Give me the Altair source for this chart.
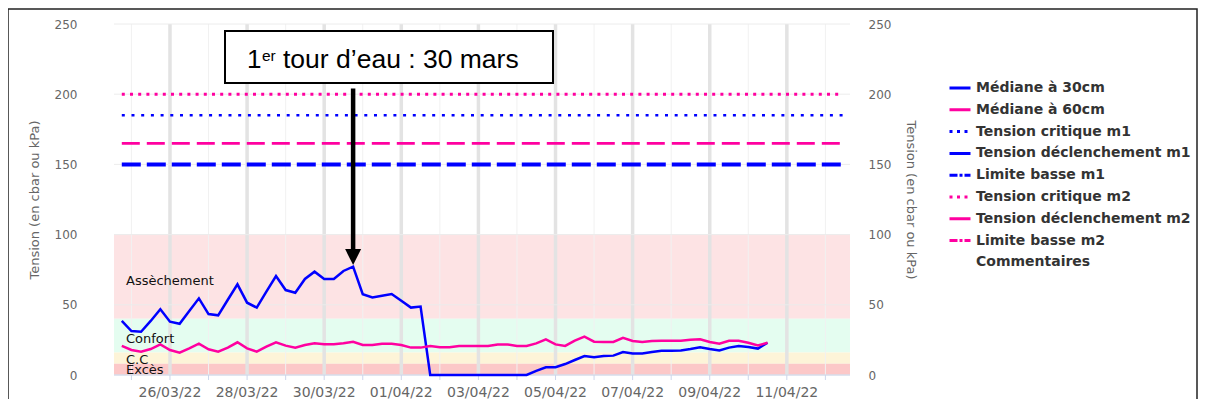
import altair as alt
import pandas as pd

# ---------------- data ----------------
t0 = pd.Timestamp("2022-03-24 18:00")
times = [(t0 + pd.Timedelta(hours=6 * i)).strftime("%Y-%m-%dT%H:%M:%S") for i in range(68)]

blue_30 = [38.5, 31.3, 30.8, 38.5, 46.8, 38.0, 36.5, 45.6, 54.6, 43.4,
           42.5, 53.6, 64.6, 51.5, 48.0, 59.4, 70.5, 60.5, 58.6, 68.4,
           73.6, 68.4, 68.4, 74.1, 77.2, 57.5, 55.3, 56.5, 57.7, 52.9,
           48.0, 48.7, 0, 0, 0, 0, 0, 0, 0, 0,
           0, 0, 0, 3.0, 5.5, 5.5, 7.8, 10.7, 13.5, 12.6,
           13.5, 13.8, 16.4, 15.4, 15.4, 16.4, 17.3, 17.3, 17.5, 18.5,
           19.7, 18.5, 17.5, 19.5, 20.7, 19.9, 18.8, 23.0]
pink_60 = [20.7, 17.8, 16.6, 18.5, 21.8, 17.8, 15.9, 19.0, 22.3, 18.3,
           16.6, 19.5, 23.3, 19.0, 16.6, 20.2, 23.3, 20.9, 19.5, 21.4,
           22.6, 21.9, 21.9, 22.6, 23.7, 21.4, 21.4, 22.3, 22.3, 21.4,
           19.5, 19.5, 20.7, 19.7, 19.7, 20.7, 20.7, 20.7, 20.7, 21.8,
           21.8, 20.7, 20.7, 22.5, 25.4, 21.8, 20.7, 24.5, 27.3, 23.7,
           23.5, 23.5, 26.4, 24.2, 23.5, 24.2, 24.4, 24.4, 24.4, 25.1,
           25.4, 23.5, 22.3, 24.4, 24.4, 23.0, 21.1, 23.0]

thr_names = ["Tension critique m2", "Tension critique m1",
             "Tension déclenchement m2", "Tension déclenchement m1"]
thr_values = [200, 185, 165, 150]
thr_start = "2022-03-24T18:00:00"
thr_end = "2022-04-12T11:00:00"

band_names = ["Assèchement", "Confort", "C.C", "Excès"]
band_lo = [40, 16, 8, 0]
band_hi = [100, 40, 16, 8]
band_label_y = [64.1, 22.8, 7.6, 1.0]

major_days = ["2022-03-26", "2022-03-28", "2022-03-30", "2022-04-01", "2022-04-03",
              "2022-04-05", "2022-04-07", "2022-04-09", "2022-04-11"]
major_labels = ["26/03/22", "28/03/22", "30/03/22", "01/04/22", "03/04/22",
                "05/04/22", "07/04/22", "09/04/22", "11/04/22"]
minor_days = ["2022-03-25", "2022-03-27", "2022-03-29", "2022-03-31", "2022-04-02",
              "2022-04-04", "2022-04-06", "2022-04-08", "2022-04-10", "2022-04-12"]
y_ticks = [0, 50, 100, 150, 200, 250]

legend_names = ["Médiane à 30cm", "Médiane à 60cm", "Tension critique m1",
                "Tension déclenchement m1", "Limite basse m1", "Tension critique m2",
                "Tension déclenchement m2", "Limite basse m2", "Commentaires"]

annotation_text = ["1", "er", "tour d\u2019eau : 30 mars"]
arrow_index = 24          # 1er tour d'eau (30/03)
arrow_top, arrow_head = 204, 84

# ---------------- styles ----------------
BLUE = "#0000ff"
PINK = "#ff00a0"
W, H = 736, 351
FONT = "DejaVu Sans"

band_colors = ["#fde3e4", "#e4fdf0", "#fdf4d8", "#fcc8c8"]
thr_colors = [PINK, BLUE, PINK, BLUE]
thr_dash = [[3, 5.2], [3, 6.7], [18, 7], [19, 6]]
thr_width = [3, 2.6, 2.6, 4]

legend_colors = [BLUE, PINK, BLUE, BLUE, BLUE, PINK, PINK, PINK, "rgba(0,0,0,0)"]
legend_dash = [[1, 0], [1, 0], [3, 4.5], [1, 0], [8, 2, 3, 2], [3, 4.5], [1, 0], [8, 2, 3, 2], [1, 0]]

x_domain = [alt.DateTime(year=2022, month=3, date=24, hours=13, minutes=9),
            alt.DateTime(year=2022, month=4, date=12, hours=15, minutes=19)]


def X(field, axis=None):
    return alt.X(field, type="temporal", scale=alt.Scale(domain=x_domain), axis=axis)


def Y(field, axis=None):
    return alt.Y(field, type="quantitative", scale=alt.Scale(domain=[0, 250], nice=False), axis=axis)


y_left = alt.Axis(orient="left", values=y_ticks, grid=False, domain=False, ticks=False, tickSize=0,
                  labelPadding=37, labelFont=FONT, labelFontSize=12, labelColor="#666666",
                  title="Tension (en cbar ou kPa)", titleFont=FONT, titleFontSize=13,
                  titleFontWeight="normal", titleColor="#666666", titlePadding=13)
y_right = alt.Axis(orient="right", values=y_ticks, grid=False, domain=False, ticks=False, tickSize=0,
                   labelPadding=18, labelFont=FONT, labelFontSize=12, labelColor="#666666",
                   title="Tension (en cbar ou kPa)", titleFont=FONT, titleFontSize=13,
                   titleFontWeight="normal", titleColor="#666666", titlePadding=13)

one = pd.DataFrame({"a": [0]})

# frame around the whole figure
frame = alt.Chart(one).mark_rect(fill=None, stroke="#222222", strokeWidth=1.5).encode(
    x=alt.value(-106), x2=alt.value(1083), y=alt.value(-15), y2=alt.value(385))

bands_df = pd.DataFrame({"name": band_names, "lo": band_lo, "hi": band_hi,
                         "ly": band_label_y, "col": band_colors})
bands = alt.Chart(bands_df).mark_rect().encode(
    x=alt.value(0), x2=alt.value(W), y=Y("lo", y_left), y2="hi",
    fill=alt.Fill("col:N", scale=None))

minor_df = pd.DataFrame({"t": [d + "T00:00:00" for d in minor_days]})
major_df = pd.DataFrame({"t": [d + "T00:00:00" for d in major_days], "lab": major_labels})
minor_grid = alt.Chart(minor_df).mark_rule(color="#f1f1f1", strokeWidth=1).encode(
    x=X("t"), y=alt.value(0), y2=alt.value(H))
major_grid = alt.Chart(major_df).mark_rule(color="#e3e3e3", strokeWidth=3.5).encode(
    x=X("t"), y=alt.value(0), y2=alt.value(H))
h_grid = alt.Chart(pd.DataFrame({"v": y_ticks})).mark_rule(color="#ececec", strokeWidth=1).encode(
    x=alt.value(0), x2=alt.value(W), y=Y("v", y_right))

# x axis: baseline, day ticks and date labels
x_base = alt.Chart(one).mark_rule(color="#ccd6eb", strokeWidth=1).encode(
    x=alt.value(0), x2=alt.value(W), y=alt.value(H))
tick_df = pd.concat([minor_df, major_df[["t"]]], ignore_index=True)
x_ticks = alt.Chart(tick_df).mark_rule(color="#ccd6eb", strokeWidth=1).encode(
    x=X("t"), y=alt.value(H), y2=alt.value(H + 5))
x_labels = alt.Chart(major_df).mark_text(align="center", baseline="alphabetic", font=FONT,
                                         fontSize=14, color="#666666").encode(
    x=X("t"), y=alt.value(H + 22), text="lab:N")

band_text = alt.Chart(bands_df).mark_text(align="left", baseline="alphabetic", font=FONT,
                                          fontSize=13, color="#111111").encode(
    x=alt.value(12), y=Y("ly"), text="name:N")

thr_layers = []
for name, val, col, dash, wdt in zip(thr_names, thr_values, thr_colors, thr_dash, thr_width):
    df = pd.DataFrame({"serie": [name], "v": [val], "t1": [thr_start], "t2": [thr_end]})
    thr_layers.append(alt.Chart(df).mark_rule(color=col, strokeDash=dash, strokeWidth=wdt).encode(
        x=X("t1"), x2="t2", y=Y("v")))

series_df = pd.DataFrame({"t": times, "m30": blue_30, "m60": pink_60})
line30 = alt.Chart(series_df).mark_line(color=BLUE, strokeWidth=2.5).encode(x=X("t"), y=Y("m30"))
line60 = alt.Chart(series_df).mark_line(color=PINK, strokeWidth=2.5).encode(x=X("t"), y=Y("m60"))

# annotation box
box = alt.Chart(one).mark_rect(fill="white", stroke="black", strokeWidth=2).encode(
    x=alt.value(111), x2=alt.value(439), y=alt.value(7), y2=alt.value(59))
ann1 = alt.Chart(one).mark_text(align="left", baseline="alphabetic", font="Liberation Sans",
                                fontSize=26, color="black").encode(
    x=alt.value(133), y=alt.value(44), text=alt.value(annotation_text[0]))
ann2 = alt.Chart(one).mark_text(align="left", baseline="alphabetic", font="Liberation Sans",
                                fontSize=15.5, color="black").encode(
    x=alt.value(148), y=alt.value(36.5), text=alt.value(annotation_text[1]))
ann3 = alt.Chart(one).mark_text(align="left", baseline="alphabetic", font="Liberation Sans",
                                fontSize=26.5, color="black").encode(
    x=alt.value(169), y=alt.value(44), text=alt.value(annotation_text[2]))

arrow_df = pd.DataFrame({"t": [times[arrow_index]], "top": [arrow_top], "head": [arrow_head]})
arrow_shaft = alt.Chart(arrow_df).mark_rule(color="black", strokeWidth=4.5).encode(
    x=X("t"), y=Y("top"), y2="head")
arrow_tip = alt.Chart(arrow_df).mark_point(shape="M-1,-1L1,-1L0,1Z", size=256, filled=True,
                                           color="black", opacity=1).encode(x=X("t"), y=Y("head"))

legend_df = pd.DataFrame({"serie": legend_names, "t": [None] * 9, "v": [None] * 9})
legend_layer = alt.Chart(legend_df).mark_line().encode(
    x=X("t"), y=Y("v"),
    color=alt.Color("serie:N", scale=alt.Scale(domain=legend_names, range=legend_colors), title=None),
    strokeDash=alt.StrokeDash("serie:N", scale=alt.Scale(domain=legend_names, range=legend_dash), title=None),
)

chart = alt.layer(
    frame, bands, minor_grid, major_grid, h_grid, x_base, x_ticks, x_labels, band_text, *thr_layers,
    line30, line60, box, ann1, ann2, ann3, arrow_shaft, arrow_tip, legend_layer
).resolve_scale(y="independent").properties(
    width=W, height=H,
    autosize=alt.AutoSizeParams(type="none"),
    padding={"left": 106, "top": 16, "right": 350, "bottom": 24},
).configure_view(stroke=None).configure_legend(
    orient="none", legendX=834, legendY=52, padding=0,
    labelFont=FONT, labelFontSize=14, labelFontWeight="bold", labelColor="#333333",
    symbolType="stroke", symbolSize=441, symbolStrokeWidth=3, rowPadding=2.8,
    labelOffset=4, labelLimit=400,
)

chart.save("out.html", embed_options={"renderer": "svg", "actions": False})
